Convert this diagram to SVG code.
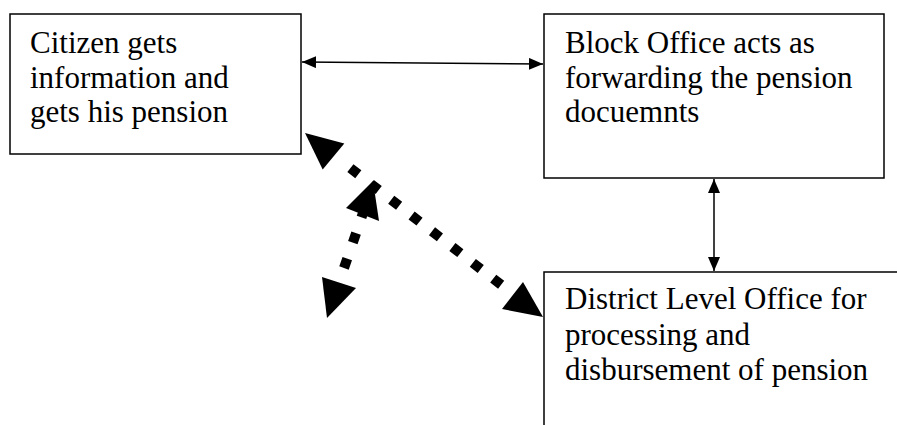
<svg xmlns="http://www.w3.org/2000/svg" width="897" height="425" viewBox="0 0 897 425">
<style>
.box{fill:#fff;stroke:#000;stroke-width:1.5}
.t{font-family:'Liberation Serif','Times New Roman',Tinos,'Nimbus Roman','DejaVu Serif',serif;font-size:31px;fill:#000}
.thin{stroke:#000;stroke-width:1.5;fill:none}
.thick{stroke:#000;stroke-width:10;fill:none;stroke-linecap:butt}
.head{fill:#000}
</style>
<defs>
<marker id="ah" viewBox="0 0 14 12" refX="14" refY="6" markerWidth="14" markerHeight="12" markerUnits="userSpaceOnUse" orient="auto-start-reverse">
<path d="M0,0 L14,6 L0,12 Z" fill="#000"/>
</marker>
</defs>
<rect width="897" height="425" fill="#fff"/>
<g id="node-citizen">
<rect class="box" x="10" y="14" width="291" height="140"/>
<text class="t" font-family="Liberation Serif, serif" x="30" y="53">Citizen gets</text>
<text class="t" font-family="Liberation Serif, serif" x="30" y="87.5">information and</text>
<text class="t" font-family="Liberation Serif, serif" x="30" y="122">gets his pension</text>
</g>
<g id="node-block">
<rect class="box" x="544" y="14" width="340" height="164"/>
<text class="t" font-family="Liberation Serif, serif" x="565" y="53">Block Office acts as</text>
<text class="t" font-family="Liberation Serif, serif" x="565" y="87.5">forwarding the pension</text>
<text class="t" font-family="Liberation Serif, serif" x="565" y="122">docuemnts</text>
</g>
<g id="node-district">
<rect class="box" x="544" y="272" width="400" height="200"/>
<text class="t" font-family="Liberation Serif, serif" x="565" y="309">District Level Office for</text>
<text class="t" font-family="Liberation Serif, serif" x="565" y="344.5">processing and</text>
<text class="t" font-family="Liberation Serif, serif" x="565" y="380">disbursement of pension</text>
</g>
<g id="connectors">
<line class="thin" x1="302" y1="62" x2="543" y2="64" marker-start="url(#ah)" marker-end="url(#ah)"/>
<line class="thin" x1="714" y1="179" x2="714" y2="271" marker-start="url(#ah)" marker-end="url(#ah)"/>
<path class="thick" d="M350.4,168.1 L501.2,284.8" stroke-dasharray="10 15.8"/>
<polygon class="head" points="305,133 322.7,169.6 344.3,143.4"/>
<polygon class="head" points="543,317 502,309 523,282"/>
<path class="thick" d="M356.1,233.1 L344,268" stroke-dasharray="10 17"/>
<path class="thick" d="M363.8,210.7 L361.5,217.3"/>
<polygon class="head" points="373,181 346,208 379,221"/>
<polygon class="head" points="327,318 322,277 356,288"/>
</g>
</svg>
